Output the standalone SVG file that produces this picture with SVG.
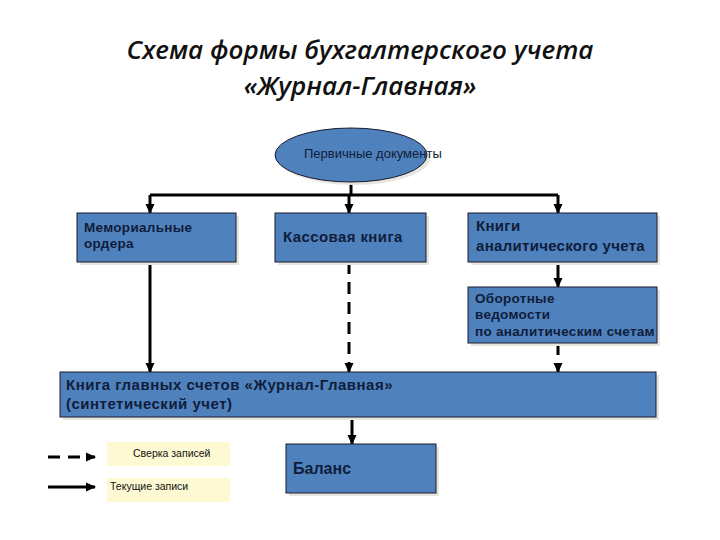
<svg xmlns="http://www.w3.org/2000/svg" width="720" height="540" viewBox="0 0 720 540">
<style>
.title{font-family:"Open Sans","DejaVu Sans",sans-serif;font-style:italic;font-weight:600;font-size:26px;fill:#111;text-anchor:middle}
.box{fill:#4f81bd;stroke:#1a1a2e;stroke-width:1}
.sh{fill:#e6e6de}
.t{font-family:"Liberation Sans",Arial,sans-serif;font-weight:bold;fill:#0f1d3a}
.lg{font-family:"Liberation Sans",Arial,sans-serif;font-size:10.5px;fill:#111}
.leg{fill:#fdf9d2}
.ln{stroke:#000;stroke-width:3;fill:none}
.dash{stroke-dasharray:12,8}
</style>
<defs>
<marker id="ah" markerWidth="10" markerHeight="10" refX="9" refY="5" orient="auto" markerUnits="userSpaceOnUse">
<path d="M0,0.5 L10,5 L0,9.5 z" fill="#000"/>
</marker>
<clipPath id="cpT"><rect x="468" y="287" width="189" height="56"/></clipPath>
</defs>
<g id="title">
<text class="title" x="360" y="59">Схема формы бухгалтерского учета</text>
<text class="title" x="360" y="95">«Журнал-Главная»</text>
</g>
<g id="connectors">
<path class="ln" d="M351,182 V195 M150,195 H558"/>
<path class="ln" d="M150,195 V213" marker-end="url(#ah)"/>
<path class="ln" d="M349,195 V213" marker-end="url(#ah)"/>
<path class="ln" d="M558,195 V213" marker-end="url(#ah)"/>
<path class="ln" d="M150,262 V372" marker-end="url(#ah)"/>
<path class="ln dash" d="M349,262 V372" marker-end="url(#ah)"/>
<path class="ln" d="M558,262 V287" marker-end="url(#ah)"/>
<path class="ln dash" d="M558,343 V372" marker-end="url(#ah)"/>
<path class="ln" d="M352,417 V444" marker-end="url(#ah)"/>
</g>
<g id="primary">
<ellipse cx="354" cy="158" rx="76" ry="27" class="sh"/>
<ellipse cx="351" cy="155" rx="76" ry="27" class="box"/>
<text class="t" x="304" y="158" style="font-weight:normal;font-size:13px">Первичные документы</text>
</g>
<g id="memorial">
<rect x="80" y="216" width="159" height="49" class="sh"/>
<rect x="77" y="213" width="159" height="49" class="box"/>
<text class="t" x="84" y="232" font-size="13.5" letter-spacing="0.3">Мемориальные</text>
<text class="t" x="84" y="248" font-size="13.5" letter-spacing="0.3">ордера</text>
</g>
<g id="cash">
<rect x="278" y="216" width="151" height="49" class="sh"/>
<rect x="275" y="213" width="151" height="49" class="box"/>
<text class="t" x="283" y="242" font-size="15" letter-spacing="0.4">Кассовая книга</text>
</g>
<g id="analytic">
<rect x="471" y="216" width="189" height="49" class="sh"/>
<rect x="468" y="213" width="189" height="49" class="box"/>
<text class="t" x="476" y="231" font-size="15" letter-spacing="0.3">Книги</text>
<text class="t" x="476" y="251" font-size="15" letter-spacing="0.3">аналитического учета</text>
</g>
<g id="turnover">
<rect x="471" y="290" width="189" height="56" class="sh"/>
<rect x="468" y="287" width="189" height="56" class="box"/>
<g clip-path="url(#cpT)">
<text class="t" x="475" y="303" font-size="13.5" letter-spacing="0.3">Оборотные</text>
<text class="t" x="475" y="319" font-size="13.5" letter-spacing="0.3">ведомости</text>
<text class="t" x="475" y="336" font-size="13.5" letter-spacing="0.3">по аналитическим счетам</text>
</g>
</g>
<g id="ledger">
<rect x="63" y="375" width="596" height="45" class="sh"/>
<rect x="60" y="372" width="596" height="45" class="box"/>
<text class="t" x="66" y="390" font-size="15" letter-spacing="0.5">Книга главных счетов «Журнал-Главная»</text>
<text class="t" x="66" y="409" font-size="15" letter-spacing="0.5">(синтетический учет)</text>
</g>
<g id="balance">
<rect x="289" y="447" width="150" height="49" class="sh"/>
<rect x="286" y="444" width="150" height="49" class="box"/>
<text class="t" x="293" y="474" font-size="16">Баланс</text>
</g>
<g id="legend">
<rect x="107" y="442" width="123" height="24" class="leg"/>
<rect x="107" y="478" width="123" height="24" class="leg"/>
<path class="ln dash" d="M48,457 H95" stroke-dasharray="9,6" marker-end="url(#ah)"/>
<path class="ln" d="M48,487 H95" marker-end="url(#ah)"/>
<text class="lg" x="133" y="457">Сверка записей</text>
<text class="lg" x="110" y="490">Текущие записи</text>
</g>
</svg>
